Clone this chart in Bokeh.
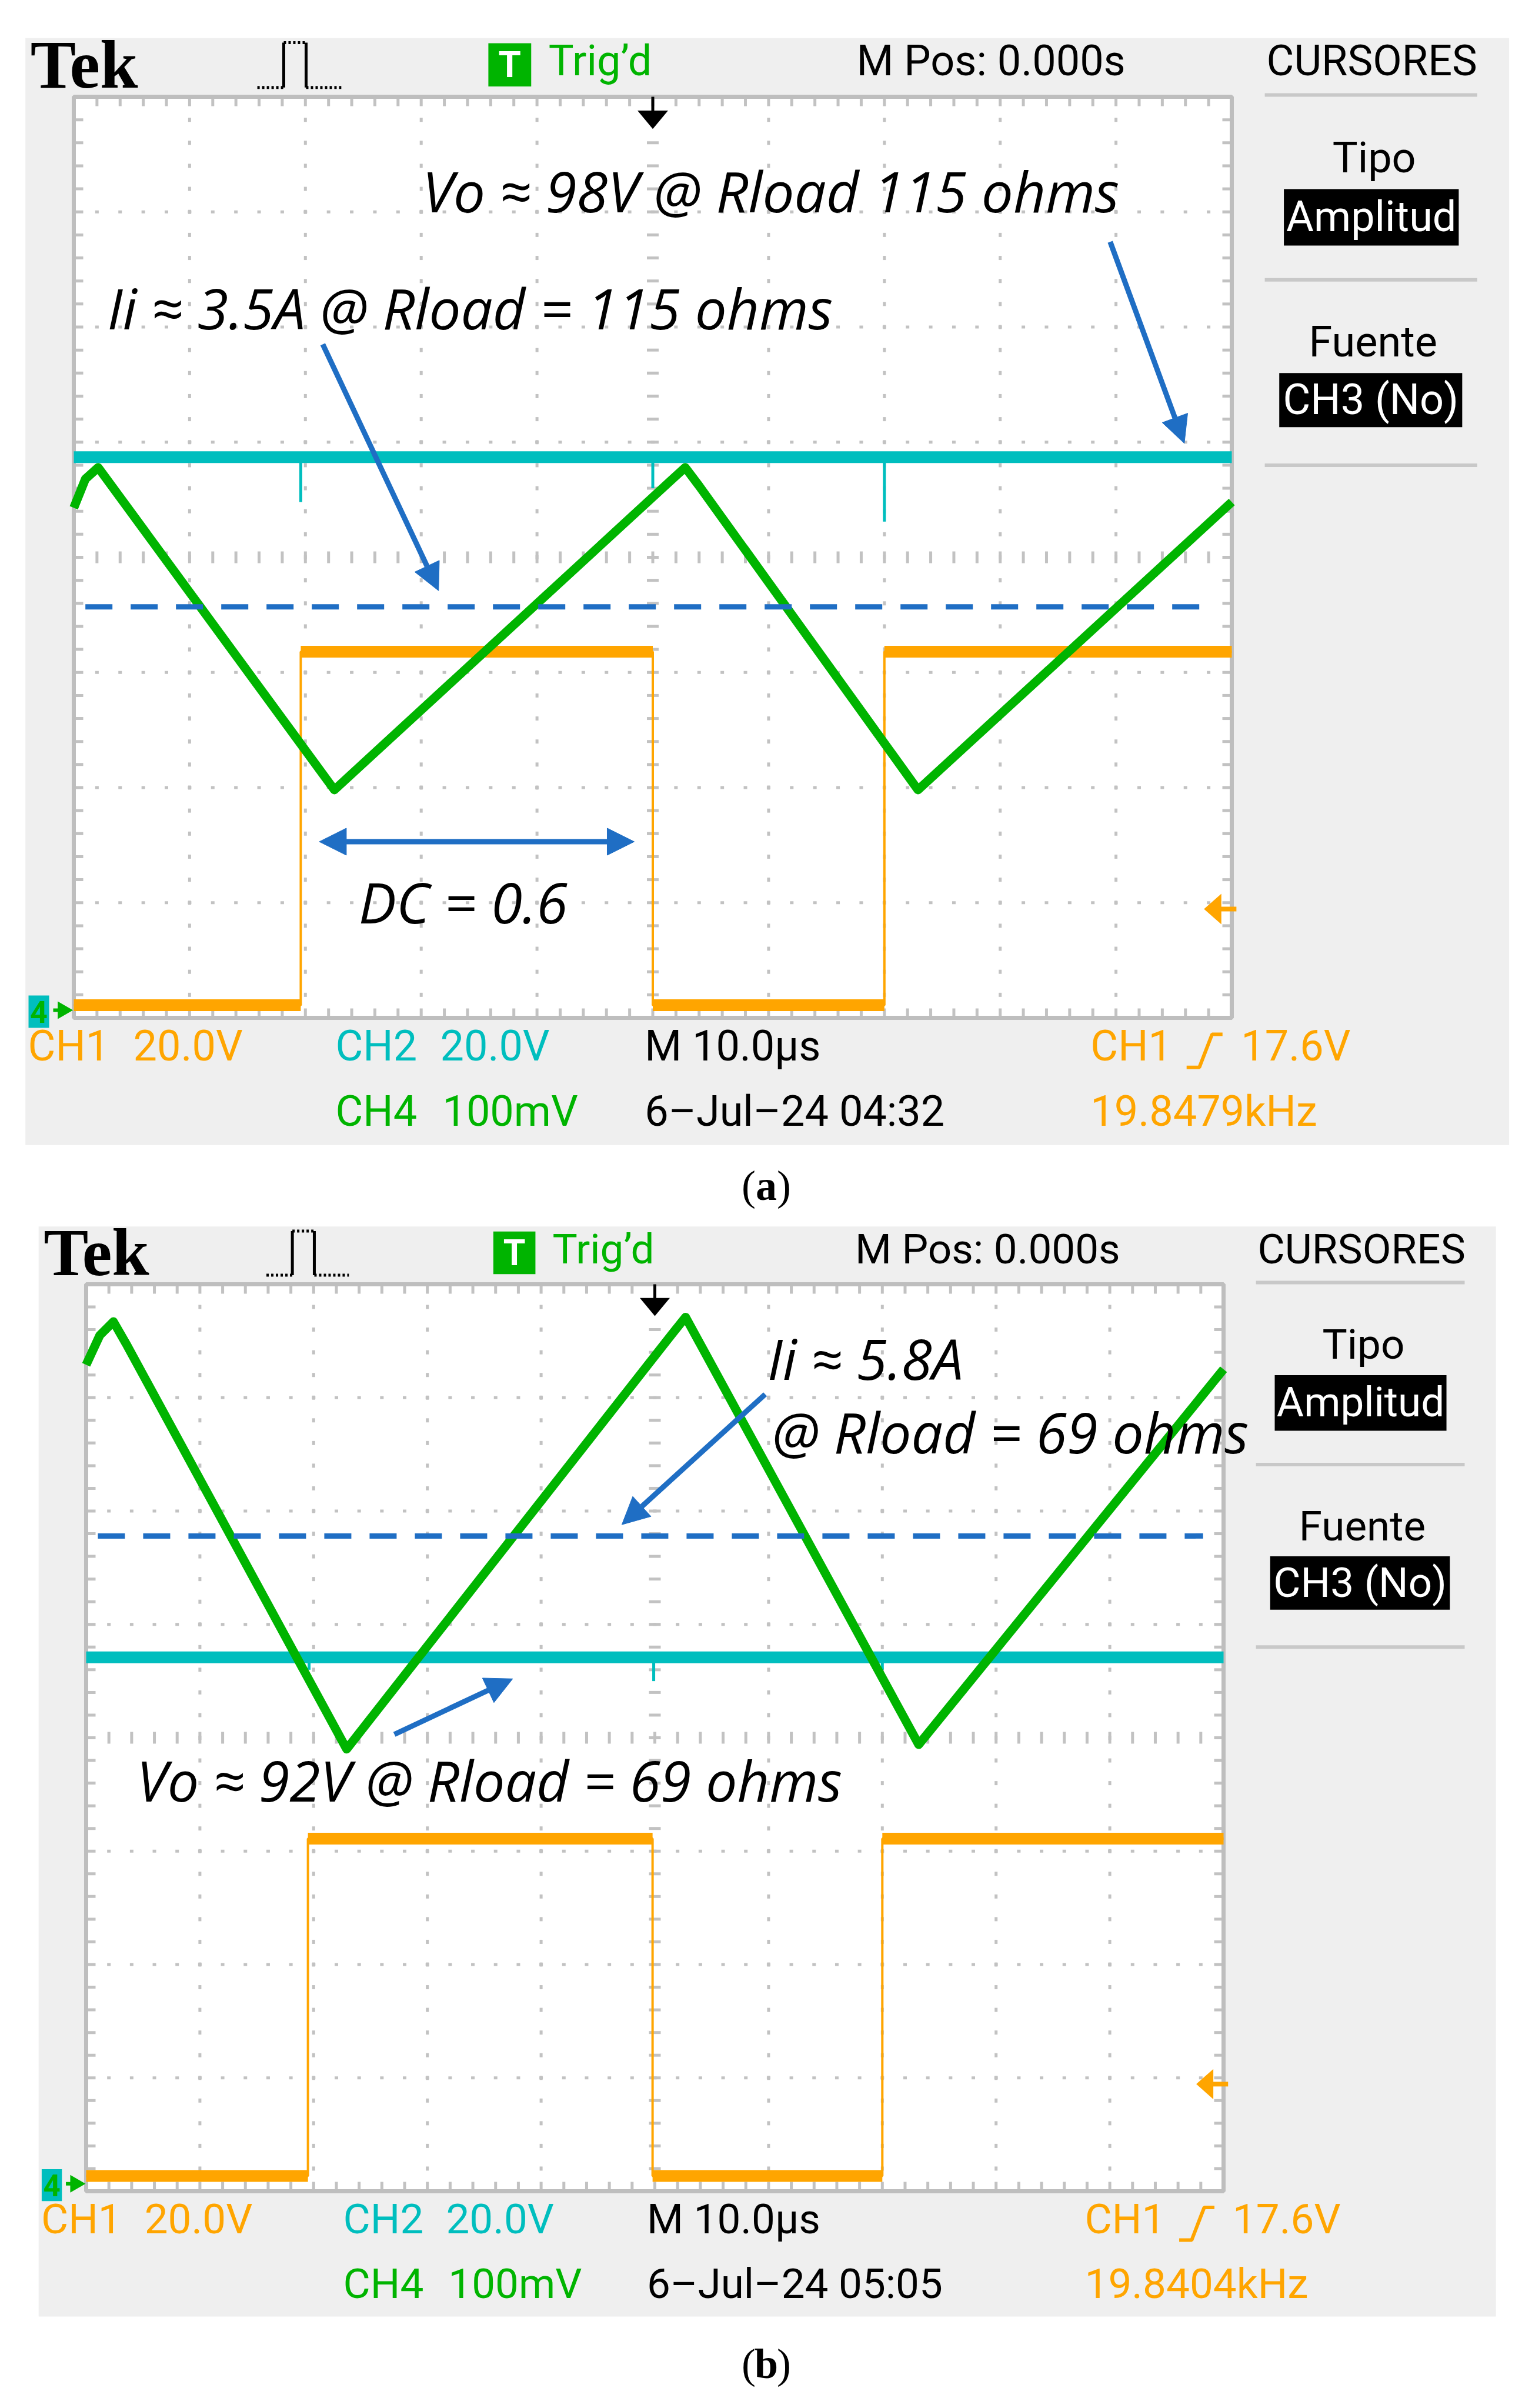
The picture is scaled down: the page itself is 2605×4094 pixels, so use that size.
import numpy as np
from bokeh.plotting import figure
from bokeh.models import Arrow, NormalHead, Range1d
from bokeh.layouts import column
from bokeh.embed import file_html
from bokeh.resources import INLINE
from bokeh.core.properties import value

# ---------------- data ----------------
# x: time in microseconds (10 us/div, 10 div); y: screen divisions (0..8)
# (a) Rload = 115 ohm
a_gate_edges = [19.6, 50.0, 70.0]          # CH1 gate: rise, fall, rise
a_gate_low, a_gate_high = 0.11, 3.18
a_vo_level = 4.87                          # CH2 output voltage
a_vo_spike_t = [19.6, 50.0, 70.0]
a_vo_spike_y = [4.48, 4.60, 4.31]
a_il_t = [0.0, 1.0, 2.1, 3.2, 22.5, 51.6, 52.8, 54.0, 72.9, 100.0]   # CH4 inductor current
a_il_y = [4.43, 4.68, 4.78, 4.63, 1.98, 4.67, 4.78, 4.62, 1.98, 4.48]
a_cursor_y = 3.57
a_date, a_freq = "6\u2013Jul\u201324 04:32", "19.8479kHz"

# (b) Rload = 69 ohm
b_gate_edges = [19.5, 49.8, 70.0]
b_gate_low, b_gate_high = 0.135, 3.11
b_vo_level = 4.71
b_vo_spike_t = [19.6, 49.9, 70.0]
b_vo_spike_y = [4.60, 4.50, 4.60]
b_il_t = [0.0, 1.2, 2.4, 3.6, 22.9, 51.5, 52.7, 53.9, 73.2, 100.0]
b_il_y = [7.29, 7.55, 7.67, 7.46, 3.90, 7.56, 7.71, 7.49, 3.94, 7.25]
b_cursor_y = 5.78
b_date, b_freq = "6\u2013Jul\u201324 05:05", "19.8404kHz"

a_notes = [("Vo \u2248 98V @ Rload 115 ohms", 30.1, 7.19),
           ("Ii \u2248 3.5A @ Rload = 115 ohms", 2.9, 6.17),
           ("DC = 0.6", 24.6, 1.01)]
a_arrows = [(21.5, 5.85, 31.5, 3.71, False), (89.5, 6.74, 95.9, 4.99, False),
            (21.2, 1.53, 48.4, 1.53, True)]
b_notes = [("Ii \u2248 5.8A", 59.9, 7.35),
           ("@ Rload = 69 ohms", 60.3, 6.70),
           ("Vo \u2248 92V @ Rload = 69 ohms", 4.45, 3.63)]
b_arrows = [(59.7, 7.03, 47.1, 5.88, False), (27.1, 4.03, 37.5, 4.52, False)]

# ---------------- style ----------------
SCOPE_FONT = "Roboto"
ANN_FONT = "Open Sans"
SERIF = "Liberation Serif"
ORANGE = "#FFA500"
CYAN = "#00BEBE"
GREEN = "#00B400"
BLUE = "#1F6EC4"
GRID = "#C2C2C2"
PANEL = "#EFEFEF"


def txt(p, x, y, s, size, color="black", font=SCOPE_FONT, style="normal",
        align="left", baseline="middle", x_offset=0):
    p.text(x=[x], y=[y], text=[s], text_font=value(font), text_font_size=f"{size:.0f}px",
           text_color=color, text_font_style=style, text_align=align,
           text_baseline=baseline, x_offset=x_offset)


def make_panel(top, H, grid_left, grid_bottom, px_x, px_y, d, caption, cap_y):
    W = 2600
    xs = (0 - grid_left) / px_x
    ye = (grid_bottom - top) / px_y
    p = figure(width=W, height=H, x_range=Range1d(xs, xs + W / px_x),
               y_range=Range1d(ye - H / px_y, ye), output_backend="svg",
               toolbar_location=None, x_axis_location=None, y_axis_location=None,
               min_border=0, outline_line_color=None,
               background_fill_color="white", border_fill_color="white")
    p.grid.visible = False
    k = px_y / 195.75
    fs = 72 * k

    # instrument panel and screen
    p.quad(left=-4.18, right=123.95, bottom=-1.105, top=8.51, fill_color=PANEL, line_color=None)
    p.quad(left=0, right=100, bottom=0, top=8, fill_color="white", line_color=None)

    # graticule
    mx = np.arange(2, 100, 2.0)
    my = np.round(np.arange(0.2, 8, 0.2), 2)
    majx = (10, 20, 30, 40, 60, 70, 80, 90)
    majy = (1, 2, 3, 5, 6, 7)
    vx = [g for g in majx for _ in my]
    vy = [yy for _ in majx for yy in my]
    p.rect(vx, vy, width=5, height=7, width_units="screen", height_units="screen",
           fill_color=GRID, line_color=None)
    hx = [xx for _ in majy for xx in mx]
    hy = [g for g in majy for _ in mx]
    p.rect(hx, hy, width=6, height=5, width_units="screen", height_units="screen",
           fill_color=GRID, line_color=None)
    p.rect(mx, [4] * len(mx), width=5, height=20, width_units="screen", height_units="screen",
           fill_color=GRID, line_color=None)
    p.rect([50] * len(my), my, width=20, height=5, width_units="screen", height_units="screen",
           fill_color=GRID, line_color=None)
    t = 8 / px_y
    p.rect(mx, [8 - t] * len(mx), width=5, height=16, width_units="screen", height_units="screen",
           fill_color=GRID, line_color=None)
    p.rect(mx, [t] * len(mx), width=5, height=16, width_units="screen", height_units="screen",
           fill_color=GRID, line_color=None)
    tx = 8 / px_x
    p.rect([tx] * len(my), my, width=16, height=5, width_units="screen", height_units="screen",
           fill_color=GRID, line_color=None)
    p.rect([100 - tx] * len(my), my, width=16, height=5, width_units="screen", height_units="screen",
           fill_color=GRID, line_color=None)
    p.quad(left=0, right=100, bottom=0, top=8, fill_color=None, line_color="#BEBEBE", line_width=7)

    # CH1 gate signal
    e = d["edges"]
    lo, hi = d["low"], d["high"]
    p.line([0, e[0], e[0], e[1], e[1], e[2], e[2], 100],
           [lo, lo, hi, hi, lo, lo, hi, hi], line_color=ORANGE, line_width=4)
    p.segment(x0=[0, e[0], e[1], e[2]], x1=[e[0], e[1], e[2], 100], y0=[lo, hi, lo, hi],
              y1=[lo, hi, lo, hi], line_color=ORANGE, line_width=20)
    # CH2 output voltage
    p.segment(x0=d["spike_t"], x1=d["spike_t"], y0=[d["vo"]] * 3, y1=d["spike_y"],
              line_color=CYAN, line_width=5)
    p.line([0, 100], [d["vo"], d["vo"]], line_color=CYAN, line_width=20)
    # CH4 inductor current
    p.line(d["il_t"], d["il_y"], line_color=GREEN, line_width=15, line_join="round")

    # markers: trigger position, trigger level, ground reference
    p.line([50, 50], [8, 7.86], line_color="black", line_width=5)
    p.patch([48.68, 51.32, 50], [7.88, 7.88, 7.72], fill_color="black", line_color=None)
    p.patch([97.6, 99.1, 99.1], [0.945, 1.078, 0.812], fill_color=ORANGE, line_color=None)
    p.line([99.0, 100.4], [0.945, 0.945], line_color=ORANGE, line_width=8)
    p.quad(left=-3.91, right=-2.13, bottom=-0.087, top=0.194, fill_color=CYAN, line_color=None)
    txt(p, -3.02, 0.053, "4", 52 * k, color=GREEN, style="bold", align="center")
    p.scatter([-0.95], [0.066], marker="triangle", angle=-np.pi / 2, size=30,
              fill_color=GREEN, line_color=None)
    p.line([-1.78, -0.6], [0.066, 0.066], line_color=GREEN, line_width=6)

    # header
    txt(p, -3.74, 8.28, "Tek", 116 * k, font=SERIF, style="bold")
    p.line([15.85, 18.13], [8.08, 8.08], line_color="black", line_width=5, line_dash="4 4")
    p.line([18.13, 18.13], [8.08, 8.47], line_color="black", line_width=5)
    p.line([20.06, 20.06], [8.47, 8.08], line_color="black", line_width=5)
    p.line([18.13, 20.06], [8.47, 8.47], line_color="black", line_width=5, line_dash="4 4")
    p.line([20.06, 23.1], [8.08, 8.08], line_color="black", line_width=5, line_dash="4 4")
    p.quad(left=35.8, right=39.5, bottom=8.09, top=8.465, fill_color=GREEN, line_color=None)
    txt(p, 37.65, 8.28, "T", 62 * k, color="white", style="bold", align="center")
    txt(p, 41.0, 8.31, "Trig\u2019d", fs, color=GREEN)
    txt(p, 67.6, 8.31, "M Pos: 0.000s", fs)
    txt(p, 103.0, 8.31, "CURSORES", fs)

    # right-hand menu
    p.segment(x0=[102.85] * 3, x1=[121.2] * 3, y0=[8.015, 6.41, 4.80], y1=[8.015, 6.41, 4.80],
              line_color="#C8C8C8", line_width=6)
    txt(p, 112.3, 7.47, "Tipo", fs, align="center")
    p.quad(left=104.5, right=119.6, bottom=6.708, top=7.198, fill_color="black", line_color=None)
    txt(p, 112.05, 6.96, "Amplitud", fs, color="white", align="center")
    txt(p, 112.2, 5.87, "Fuente", fs, align="center")
    p.quad(left=104.1, right=119.9, bottom=5.13, top=5.60, fill_color="black", line_color=None)
    txt(p, 112.0, 5.37, "CH3 (No)", fs, color="white", align="center")

    # footer readouts
    r1, r2 = -0.245, -0.812
    txt(p, -3.96, r1, "CH1", fs, color=ORANGE)
    txt(p, 5.13, r1, "20.0V", fs, color=ORANGE)
    txt(p, 22.6, r1, "CH2", fs, color=CYAN)
    txt(p, 31.64, r1, "20.0V", fs, color=CYAN)
    txt(p, 49.3, r1, "M 10.0\u00b5s", fs)
    txt(p, 87.8, r1, "CH1", fs, color=ORANGE)
    p.line([96.1, 97.2, 98.3, 99.2], [-0.43, -0.43, -0.143, -0.143], line_color=ORANGE, line_width=6)
    txt(p, 100.8, r1, "17.6V", fs, color=ORANGE)
    txt(p, 22.6, r2, "CH4", fs, color=GREEN)
    txt(p, 31.84, r2, "100mV", fs, color=GREEN)
    txt(p, 49.3, r2, d["date"], fs)
    txt(p, 87.8, r2, d["freq"], fs, color=ORANGE)

    # annotations
    p.line([d["cur_x0"], d["cur_x1"]], [d["cursor"], d["cursor"]], line_color=BLUE,
           line_width=9, line_dash="46 31")
    for x0, y0, x1, y1, both in d["arrows"]:
        head = dict(size=46, fill_color=BLUE, line_color=BLUE, line_width=1)
        p.add_layout(Arrow(x_start=x0, y_start=y0, x_end=x1, y_end=y1, line_color=BLUE,
                           line_width=9, end=NormalHead(**head),
                           start=NormalHead(**head) if both else None))
    for s, x, y in d["notes"]:
        txt(p, x, y, s, 96 * k, font=ANN_FONT, style="italic")

    # caption
    txt(p, 59.8, cap_y, "(", 72, font=SERIF, align="right", x_offset=-18)
    txt(p, 59.8, cap_y, caption, 72, font=SERIF, style="bold", align="center")
    txt(p, 59.8, cap_y, ")", 72, font=SERIF, align="left", x_offset=18)
    return p


da = dict(edges=a_gate_edges, low=a_gate_low, high=a_gate_high, vo=a_vo_level,
          spike_t=a_vo_spike_t, spike_y=a_vo_spike_y, il_t=a_il_t, il_y=a_il_y,
          cursor=a_cursor_y, cur_x0=1.0, cur_x1=98.0, date=a_date, freq=a_freq,
          notes=a_notes, arrows=a_arrows)
db = dict(edges=b_gate_edges, low=b_gate_low, high=b_gate_high, vo=b_vo_level,
          spike_t=b_vo_spike_t, spike_y=b_vo_spike_y, il_t=b_il_t, il_y=b_il_y,
          cursor=b_cursor_y, cur_x0=1.03, cur_x1=98.2, date=b_date, freq=b_freq,
          notes=b_notes, arrows=b_arrows)

HA, HB = 2060, 2030
pa = make_panel(0, HA, 125, 1730, 19.69, 195.75, da, "a", -1.456)
pb = make_panel(HA, HB, 146, 3725, 19.34, 192.75, db, "b", -1.525)

layout = column(pa, pb, spacing=0)
open("out.html", "w").write(file_html(layout, INLINE))
